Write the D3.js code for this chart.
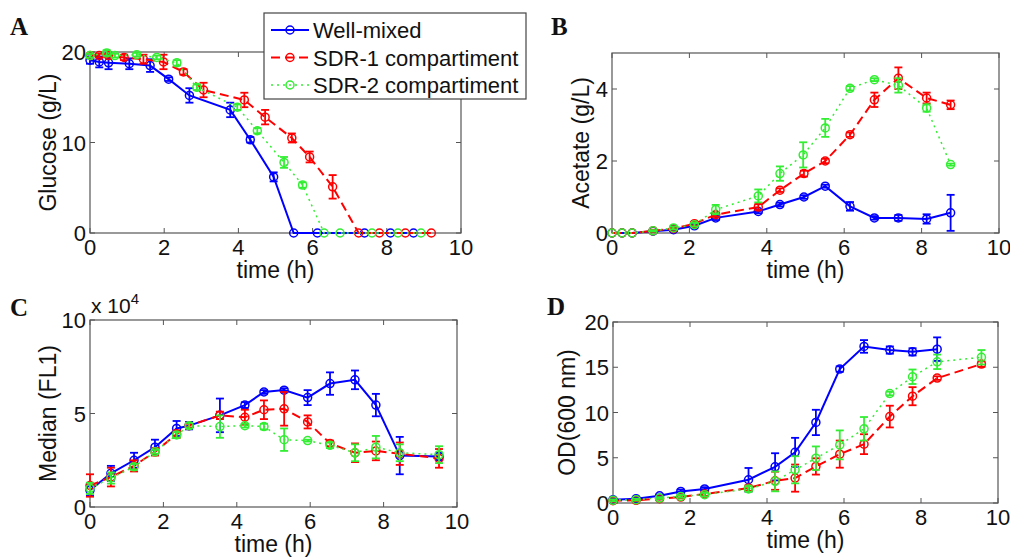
<!DOCTYPE html>
<html>
<head>
<meta charset="utf-8">
<script src="https://cdn.jsdelivr.net/npm/d3@7"></script>
<style>
  body { margin: 0; background: #fff; }
  text { font-family: "Liberation Sans", Arial, sans-serif; fill: #111; }
</style>
</head>
<body>
<svg id="chart" width="1010" height="559"></svg>
<script>
// data: [time (h), value, error]
var seriesNames = ["Well-mixed", "SDR-1 compartiment", "SDR-2 compartiment"];
var xTicks = [0, 2, 4, 6, 8, 10];

var glucoseWell = [[0,19.1,0.4],[0.25,18.9,0.6],[0.5,18.8,0.7],[1.06,18.7,0.6],[1.62,18.5,0.7],[2.12,17.0,0.2],[2.68,15.2,0.8],[3.78,13.6,0.8],[4.32,10.3,0.3],[4.95,6.2,0.5],[5.49,0,0],[6.13,0,0],[7.4,0,0],[8.1,0,0],[8.72,0,0]];
var glucoseSdr1 = [[0,19.6,0.2],[0.25,19.6,0.2],[0.5,19.6,0.2],[0.92,19.4,0.3],[1.44,19.2,0.5],[1.98,18.9,0.8],[2.52,17.8,0.3],[3.06,15.8,0.8],[4.16,14.7,0.8],[4.72,12.8,0.8],[5.44,10.5,0.5],[5.92,8.4,0.6],[6.54,5.1,1.3],[7.24,0,0],[7.8,0,0],[8.5,0,0],[9.2,0,0]];
var glucoseSdr2 = [[0,19.6,0.2],[0.45,19.9,0.3],[0.67,19.6,0.2],[1.26,19.7,0.2],[1.8,19.4,0.2],[2.34,18.8,0.3],[2.88,16.1,0.3],[3.97,13.9,0.3],[4.51,11.3,0.3],[5.23,7.8,0.6],[5.73,5.3,0.3],[6.31,0,0],[6.74,0,0],[7.6,0,0],[8.3,0,0],[8.92,0,0]];

var acetateWell = [[0,0,0],[0.26,0,0],[0.52,0,0],[1.06,0.05,0.02],[1.59,0.09,0.03],[2.13,0.2,0.05],[2.68,0.42,0.06],[3.78,0.6,0.05],[4.34,0.79,0.05],[4.96,1.0,0.05],[5.51,1.3,0.04],[6.15,0.74,0.12],[6.78,0.42,0.05],[7.4,0.42,0.08],[8.13,0.39,0.13],[8.75,0.56,0.5]];
var acetateSdr1 = [[0,0,0],[0.26,0,0],[0.52,0,0],[1.06,0.06,0.03],[1.59,0.12,0.03],[2.13,0.26,0.05],[2.68,0.51,0.06],[3.78,0.72,0.08],[4.34,1.19,0.05],[4.96,1.65,0.08],[5.51,2.0,0.06],[6.15,2.73,0.06],[6.78,3.7,0.2],[7.4,4.3,0.3],[8.13,3.75,0.15],[8.75,3.56,0.12]];
var acetateSdr2 = [[0,0,0],[0.26,0,0],[0.52,0,0],[1.06,0.06,0.02],[1.59,0.14,0.04],[2.13,0.23,0.05],[2.68,0.65,0.13],[3.78,1.03,0.18],[4.34,1.65,0.2],[4.94,2.17,0.35],[5.51,2.92,0.25],[6.15,4.02,0.06],[6.78,4.26,0.04],[7.4,4.1,0.2],[8.13,3.47,0.1],[8.75,1.9,0.03]];

// median FL1 in units of 10^4
var medianWell = [[0,0.9,0.3],[0.57,1.8,0.4],[1.2,2.5,0.4],[1.77,3.2,0.4],[2.36,4.2,0.4],[2.7,4.35,0.2],[3.54,4.9,0.9],[4.22,5.45,0.15],[4.74,6.15,0.1],[5.29,6.25,0.1],[5.93,5.85,0.4],[6.54,6.6,0.6],[7.22,6.8,0.5],[7.79,5.45,0.6],[8.44,2.75,1.0],[9.51,2.7,0.2]];
var medianSdr1 = [[0,1.15,0.6],[0.57,1.6,0.5],[1.2,2.2,0.3],[1.77,2.95,0.2],[2.36,3.9,0.2],[2.7,4.35,0.1],[3.54,4.9,0.2],[4.22,4.8,0.4],[4.74,5.2,0.5],[5.29,5.25,0.9],[5.93,4.55,0.35],[6.54,3.4,0.15],[7.22,2.9,0.5],[7.79,3.0,0.5],[8.44,2.85,0.6],[9.51,2.6,0.5]];
var medianSdr2 = [[0,1.0,0.3],[0.57,1.55,0.3],[1.2,2.15,0.15],[1.77,2.95,0.1],[2.36,3.85,0.15],[2.7,4.35,0.15],[3.54,4.3,0.6],[4.22,4.35,0.1],[4.74,4.3,0.15],[5.29,3.6,0.6],[5.93,3.55,0.05],[6.54,3.3,0.15],[7.22,2.9,0.45],[7.79,3.2,0.6],[8.44,2.9,0.45],[9.51,2.8,0.45]];

var odWell = [[0,0.37,0.1],[0.6,0.48,0.1],[1.21,0.8,0.15],[1.76,1.28,0.2],[2.38,1.55,0.2],[3.52,2.57,1.3],[4.21,4.0,1.5],[4.73,5.6,1.6],[5.27,8.9,1.4],[5.89,14.8,0.3],[6.52,17.3,0.7],[7.19,16.9,0.4],[7.78,16.7,0.4],[8.42,17.0,1.3]];
var odSdr1 = [[0,0.26,0.1],[0.6,0.3,0.1],[1.21,0.48,0.1],[1.76,0.66,0.15],[2.38,1.0,0.2],[3.52,1.65,0.3],[4.21,2.46,1.0],[4.73,2.75,1.5],[5.27,4.04,0.9],[5.89,5.4,1.5],[6.52,6.5,1.1],[7.19,9.55,1.2],[7.78,11.8,1.0],[8.42,13.8,0.2],[9.57,15.35,0.3]];
var odSdr2 = [[0,0.3,0.1],[0.6,0.37,0.1],[1.21,0.55,0.1],[1.76,0.73,0.15],[2.38,0.92,0.2],[3.52,1.55,0.3],[4.21,2.39,1.1],[4.73,3.67,1.5],[5.27,4.95,1.3],[5.89,6.42,1.6],[6.52,8.2,1.3],[7.19,12.1,0.2],[7.78,13.95,0.8],[8.42,15.6,0.8],[9.57,16.1,0.8]];

//Styles for the three series
var styles = [
    { color: "#0000ff", dash: null, width: 2 },
    { color: "#ff0000", dash: "9,5", width: 2 },
    { color: "#33ee33", dash: "2,4", width: 1.5 }
];

var svg = d3.select("#chart");

function drawPanel(p) {
    const x = d3.scaleLinear().domain([0, 10]).range([p.left, p.right]);
    const y = d3.scaleLinear().domain(p.yDomain).range([p.bottom, p.top]);
    const g = svg.append("g");

    //Box
    g.append("rect")
        .attr("x", p.left).attr("y", p.top)
        .attr("width", p.right - p.left).attr("height", p.bottom - p.top)
        .attr("fill", "none").attr("stroke", "#555").attr("stroke-width", 1.2);

    //Inward ticks on all sides
    const tl = 5;
    xTicks.forEach(t => {
        g.append("line").attr("x1", x(t)).attr("x2", x(t)).attr("y1", p.bottom).attr("y2", p.bottom - tl)
            .attr("stroke", "#555");
        g.append("line").attr("x1", x(t)).attr("x2", x(t)).attr("y1", p.top).attr("y2", p.top + tl)
            .attr("stroke", "#555");
        g.append("text").attr("x", x(t)).attr("y", p.bottom + 22)
            .attr("text-anchor", "middle").attr("font-size", 22).text(t);
    });
    p.yTicks.forEach(t => {
        g.append("line").attr("x1", p.left).attr("x2", p.left + tl).attr("y1", y(t)).attr("y2", y(t))
            .attr("stroke", "#555");
        g.append("line").attr("x1", p.right).attr("x2", p.right - tl).attr("y1", y(t)).attr("y2", y(t))
            .attr("stroke", "#555");
        g.append("text").attr("x", p.left - 4).attr("y", y(t) + 8)
            .attr("text-anchor", "end").attr("font-size", 22).text(t);
    });

    //Axis labels
    g.append("text").attr("x", (p.left + p.right) / 2).attr("y", p.bottom + 45)
        .attr("text-anchor", "middle").attr("font-size", 23).text("time (h)");
    g.append("text")
        .attr("transform", `translate(${p.yLabelX},${(p.top + p.bottom) / 2}) rotate(-90)`)
        .attr("text-anchor", "middle").attr("font-size", 23).text(p.yLabel);

    //Panel letter
    svg.append("text").attr("x", p.letterX).attr("y", p.letterY)
        .style("font-family", "'Liberation Serif', 'Times New Roman', serif")
        .attr("font-weight", "bold").attr("font-size", 25).text(p.letter);

    //Series
    p.series.forEach((data, i) => {
        const s = styles[i];
        const line = d3.line().x(d => x(d[0])).y(d => y(d[1]));
        g.append("path").datum(data)
            .attr("d", line)
            .attr("fill", "none")
            .attr("stroke", s.color)
            .attr("stroke-width", s.width)
            .attr("stroke-dasharray", s.dash);

        const eb = g.append("g").attr("stroke", s.color).attr("stroke-width", 1.8);
        data.filter(d => d[2] > 0).forEach(d => {
            const cx = x(d[0]);
            const y1 = y(d[1] - d[2]);
            const y2 = y(d[1] + d[2]);
            eb.append("line").attr("x1", cx).attr("x2", cx).attr("y1", y1).attr("y2", y2);
            eb.append("line").attr("x1", cx - 4).attr("x2", cx + 4).attr("y1", y1).attr("y2", y1);
            eb.append("line").attr("x1", cx - 4).attr("x2", cx + 4).attr("y1", y2).attr("y2", y2);
        });

        g.append("g").selectAll("circle").data(data).join("circle")
            .attr("cx", d => x(d[0]))
            .attr("cy", d => y(d[1]))
            .attr("r", 4)
            .attr("fill", "none")
            .attr("stroke", s.color)
            .attr("stroke-width", 1.5);
    });
    return g;
}

drawPanel({
    left: 90, right: 461, top: 52, bottom: 233,
    yDomain: [0, 20], yTicks: [0, 10, 20],
    yLabel: "Glucose (g/L)", yLabelX: 56,
    letter: "A", letterX: 10, letterY: 35,
    series: [glucoseWell, glucoseSdr1, glucoseSdr2]
});
drawPanel({
    left: 612, right: 999, top: 53, bottom: 233,
    yDomain: [0, 5], yTicks: [0, 2, 4],
    yLabel: "Acetate (g/L)", yLabelX: 589,
    letter: "B", letterX: 551, letterY: 35,
    series: [acetateWell, acetateSdr1, acetateSdr2]
});
drawPanel({
    left: 90, right: 457, top: 320, bottom: 507,
    yDomain: [0, 10], yTicks: [0, 5, 10],
    yLabel: "Median (FL1)", yLabelX: 56,
    letter: "C", letterX: 10, letterY: 316,
    series: [medianWell, medianSdr1, medianSdr2]
});
drawPanel({
    left: 613, right: 998, top: 322, bottom: 503,
    yDomain: [0, 20], yTicks: [0, 5, 10, 15, 20],
    yLabel: "OD(600 nm)", yLabelX: 575,
    letter: "D", letterX: 547, letterY: 315,
    series: [odWell, odSdr1, odSdr2]
});

//Exponent label for panel C
var expo = svg.append("text").attr("x", 91).attr("y", 313).attr("font-size", 21);
expo.append("tspan").text("x 10");
expo.append("tspan").attr("dy", -9).attr("font-size", 15).text("4");

//Legend
var legend = svg.append("g");
legend.append("rect")
    .attr("x", 264).attr("y", 13).attr("width", 262).attr("height", 86)
    .attr("fill", "#fff").attr("stroke", "#444").attr("stroke-width", 1.2);
seriesNames.forEach((name, i) => {
    const s = styles[i];
    const cy = 30 + i * 27.5;
    legend.append("line")
        .attr("x1", 271).attr("x2", 309).attr("y1", cy).attr("y2", cy)
        .attr("stroke", s.color).attr("stroke-width", s.width)
        .attr("stroke-dasharray", s.dash);
    legend.append("circle").attr("cx", 290).attr("cy", cy).attr("r", 4)
        .attr("fill", "none").attr("stroke", s.color).attr("stroke-width", 1.5);
    legend.append("text").attr("x", 313).attr("y", cy + 8)
        .attr("font-size", 22).text(name);
});
</script>
</body>
</html>
